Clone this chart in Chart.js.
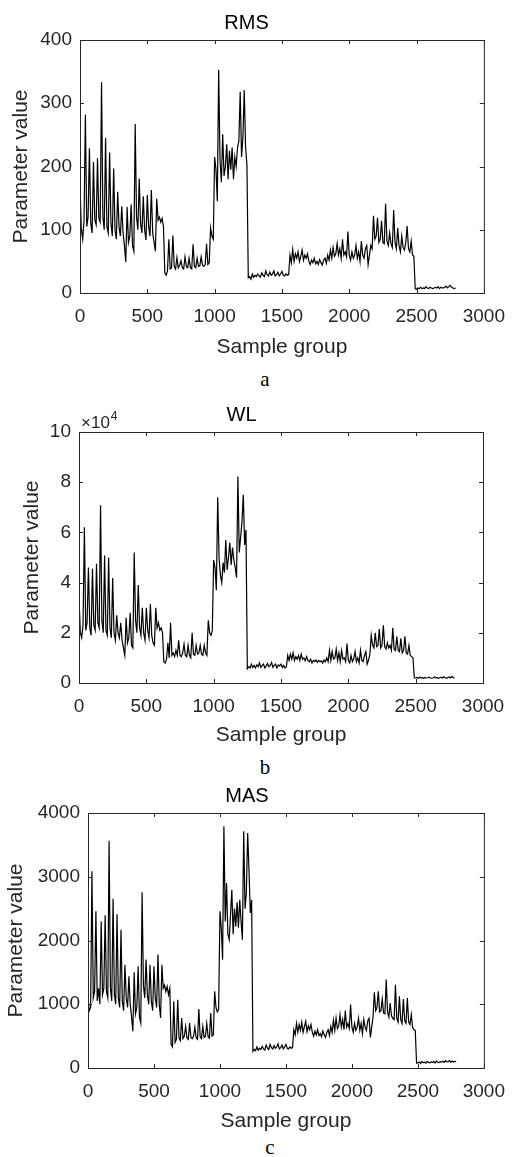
<!DOCTYPE html>
<html>
<head>
<meta charset="utf-8">
<script src="https://cdn.jsdelivr.net/npm/chart.js@4.4.1/dist/chart.umd.min.js"></script>
<style>
  html, body { margin: 0; padding: 0; background: #fff; }
  body { width: 517px; height: 1157px; position: relative; overflow: hidden; }
  .panel { position: absolute; left: 0; width: 517px; height: 365px; }
  .tag { position: absolute; font-family: "Liberation Serif", "Times New Roman", serif;
         font-size: 21px; line-height: 1; color: #000; transform: translateX(-50%); }
</style>
</head>
<body>
<div class="panel" style="top:0px"><canvas id="rms"></canvas></div>
<div class="tag" style="left:265px; top:369px">a</div>
<div class="panel" style="top:390px"><canvas id="wl"></canvas></div>
<div class="tag" style="left:265px; top:757px">b</div>
<div class="panel" style="top:770px"><canvas id="mas"></canvas></div>
<div class="tag" style="left:270px; top:1137px">c</div>

<script>
// sample index of every stored point (one point per 10 samples)
const STEP = 10;
const xTicks = [0, 500, 1000, 1500, 2000, 2500, 3000];
const rmsTicks = [0, 100, 200, 300, 400];
const wlTicks = [0, 20000, 40000, 60000, 80000, 100000];   // shown as x10^4
const masTicks = [0, 1000, 2000, 3000, 4000];

// RMS, one row = 100 samples
const rmsValues = [
  170,100,85,115,282,105,120,229,110,95,
  207,115,108,213,118,112,333,120,100,245,
  105,95,222,110,90,197,100,85,160,105,
  90,137,95,75,49,136,80,90,140,75,
  66,267,120,100,181,110,95,153,100,84,
  155,105,90,163,95,80,66,149,115,120,
  112,118,105,32,28,35,85,38,40,91,
  42,38,56,40,44,51,40,38,57,42,
  40,55,40,38,77,42,40,55,42,43,
  57,44,42,45,78,45,48,103,90,85,
  215,195,145,353,210,175,251,185,200,235,
  180,225,195,230,180,215,200,230,240,318,
  215,245,321,230,203,24,26,22,30,25,
  28,26,30,27,25,32,28,26,35,29,
  27,33,28,30,35,27,29,33,27,30,
  34,28,27,30,28,29,60,48,69,50,
  62,55,65,50,58,68,52,60,55,62,
  50,45,52,48,55,46,50,45,53,48,
  44,52,55,47,60,52,68,55,72,58,
  62,78,60,70,55,85,60,65,57,97,
  60,52,65,55,60,75,55,65,50,82,
  60,55,70,75,45,60,75,70,122,85,
  90,119,80,85,114,80,78,141,82,75,
  95,78,72,131,80,70,103,75,65,90,
  72,68,80,106,70,65,82,60,58,7,
  6,8,7,9,7,8,7,10,8,7,
  9,8,7,8,9,8,10,7,9,8,
  8,9,11,8,10,12,9,8,7,8
];

// WL
const wlValues = [
  34000,20000,18000,23000,62000,21000,24000,46000,22000,19000,
  45500,23000,21000,47500,24000,22000,70800,25000,20000,50800,
  21000,19000,50000,22000,18000,41800,20000,17000,27000,20000,
  18000,24000,17000,14000,11000,26000,16000,18000,28000,15000,
  14000,52000,25000,20000,39000,22000,19000,30000,20000,17000,
  30000,21000,18000,31500,19000,16000,15000,30000,22000,24000,
  21000,22000,20000,8400,8000,9500,16000,10000,24000,11000,
  12000,10500,13000,11000,17000,11000,10500,12000,15500,11000,
  10500,15000,11000,10000,20000,11500,11000,15000,11500,12000,
  15000,11500,11000,15000,12000,11000,25000,20000,19000,21000,
  49000,46000,37000,74000,50000,43000,40000,48000,44000,57000,
  45000,50000,56000,47000,54000,49000,46000,42000,82300,52000,
  58000,64000,75000,55000,61000,5700,6500,6000,7500,6200,
  7000,6000,7200,6500,8000,6200,7000,7500,6000,6800,
  7800,6500,7000,8200,6200,7000,7500,6000,7200,6800,
  7500,6200,7000,6000,6500,11000,9000,11500,9500,12000,
  9000,10500,9500,11000,9000,11500,9500,10000,8800,10500,
  9000,8500,9500,8000,9000,8500,9200,8200,9000,8500,
  8800,8000,9200,8500,10000,8500,13000,9000,12500,9500,
  10000,13500,9000,12000,8500,13000,9500,10000,8500,15700,
  9000,8000,11000,8500,9500,12500,8500,10000,8000,13000,
  9000,8500,11000,12500,7500,9000,11500,19000,15000,14000,
  20000,14500,15000,21500,14000,15000,23000,14500,13500,16000,
  14000,15000,13000,22000,13500,13000,18500,13000,12500,17800,
  12000,13000,18600,12000,11500,15000,11000,10500,10000,2100,
  2000,2200,1900,2300,2000,2100,1900,2200,2000,2100,
  2300,2000,1900,2100,2400,2000,2200,1900,2100,2300,
  2000,2500,2100,1900,2200,2400,2000,2600,2100,2000
];

// MAS
const masValues = [
  1080,900,950,3085,1100,1200,2460,1050,1250,1000,
  2300,1150,1250,2395,1200,1100,3566,1250,1050,2656,
  1150,1000,2410,1100,950,2170,1050,900,1620,1100,
  950,1440,1000,800,575,1500,850,950,1595,800,
  706,2756,1300,1100,1700,1150,1000,1620,1050,900,
  1595,1100,950,1780,1000,784,1620,1250,1300,1200,
  1280,1150,1250,366,330,1046,400,450,1072,470,
  430,784,460,500,654,470,450,706,480,460,
  500,640,470,450,925,490,460,650,480,500,
  700,490,470,863,500,520,1203,950,880,920,
  2458,2200,1700,3791,2300,2902,2100,2013,2400,2797,
  2100,2500,2222,2600,2200,2640,2300,2013,3713,2500,
  2745,3686,3111,2431,2640,261,290,270,330,280,
  310,290,340,300,280,360,310,290,370,320,
  300,350,310,330,380,300,320,360,300,330,
  370,310,300,330,310,320,600,520,700,560,
  680,590,720,560,650,732,570,660,600,680,
  560,500,580,520,600,510,540,490,580,520,
  480,560,600,510,650,560,750,590,784,620,
  660,837,640,760,600,900,640,700,620,994,
  640,560,700,590,640,780,590,700,540,760,
  640,590,740,780,480,640,800,1187,900,950,
  1203,880,900,1082,860,850,1386,880,800,1020,
  820,780,760,1307,780,720,1124,760,700,1082,
  740,700,1098,720,680,837,640,600,590,78,
  80,95,70,100,85,90,75,105,88,80,
  95,85,100,78,110,90,85,100,92,105,
  88,115,95,100,120,90,110,95,105,100
];

const sampleGroup = rmsValues.map((_, i) => i * STEP);

const AXIS_COLOR = '#262626';
const SANS = '"Liberation Sans", Arial, sans-serif';

// MATLAB-like box with inward ticks on all four sides
const boxPlugin = {
  id: 'box',
  afterDraw(chart, args, opts) {
    const { ctx, chartArea: a, scales: { x, y } } = chart;
    const len = 4;
    ctx.save();
    ctx.strokeStyle = AXIS_COLOR;
    ctx.lineWidth = 1;
    ctx.strokeRect(a.left + 0.5, a.top + 0.5, a.right - a.left, a.bottom - a.top);
    ctx.beginPath();
    x.ticks.forEach(t => {
      const px = Math.round(x.getPixelForValue(t.value)) + 0.5;
      ctx.moveTo(px, a.bottom); ctx.lineTo(px, a.bottom - len);
      ctx.moveTo(px, a.top); ctx.lineTo(px, a.top + len);
    });
    y.ticks.forEach(t => {
      const py = Math.round(y.getPixelForValue(t.value)) + 0.5;
      ctx.moveTo(a.left, py); ctx.lineTo(a.left + len, py);
      ctx.moveTo(a.right, py); ctx.lineTo(a.right - len, py);
    });
    ctx.stroke();
    if (opts.exponent) {
      ctx.fillStyle = AXIS_COLOR;
      ctx.textBaseline = 'alphabetic';
      ctx.font = '17px ' + SANS;
      ctx.fillText('\u00d710', a.left + 2, a.top - 4);
      const w = ctx.measureText('\u00d710').width;
      ctx.font = '12px ' + SANS;
      ctx.fillText(opts.exponent, a.left + 3 + w, a.top - 12);
    }
    ctx.restore();
  }
};

function makePanel(p) {
  new Chart(document.getElementById(p.id), {
    type: 'line',
    data: {
      datasets: [{
        data: p.values.map((v, i) => ({ x: sampleGroup[i], y: v })),
        borderColor: '#000',
        borderWidth: 1.2,
        pointRadius: 0,
        tension: 0,
        fill: false
      }]
    },
    options: {
      responsive: true,
      maintainAspectRatio: false,
      animation: false,
      events: [],
      layout: { padding: { left: 0, right: p.padRight, top: 0, bottom: 0 } },
      plugins: {
        legend: { display: false },
        tooltip: { enabled: false },
        title: {
          display: true,
          text: p.title,
          color: '#000',
          font: { family: SANS, size: 20, weight: 'normal' },
          padding: { top: p.titleTop, bottom: p.top - p.titleTop - 24 }
        },
        box: { exponent: p.exponent }
      },
      scales: {
        x: {
          type: 'linear',
          min: xTicks[0],
          max: xTicks[xTicks.length - 1],
          afterBuildTicks: s => { s.ticks = xTicks.map(v => ({ value: v })); },
          afterFit: s => { s.height = 365 - p.bottom; },
          grid: { display: false, drawTicks: false },
          border: { display: false },
          ticks: {
            padding: 12,
            color: AXIS_COLOR,
            font: { family: SANS, size: 19 },
            maxRotation: 0,
            callback: v => String(v)
          },
          title: {
            display: true,
            text: 'Sample group',
            color: AXIS_COLOR,
            font: { family: SANS, size: 21 },
            padding: { top: 0, bottom: p.xTitlePad }
          }
        },
        y: {
          type: 'linear',
          min: p.ticks[0],
          max: p.ticks[p.ticks.length - 1],
          afterBuildTicks: s => { s.ticks = p.ticks.map(v => ({ value: v })); },
          afterFit: s => { s.width = p.left; },
          grid: { display: false, drawTicks: false },
          border: { display: false },
          ticks: {
            padding: 8,
            color: AXIS_COLOR,
            font: { family: SANS, size: 19 },
            callback: v => p.exponent ? String(v / 10000) : String(v)
          },
          title: {
            display: true,
            text: 'Parameter value',
            color: AXIS_COLOR,
            font: { family: SANS, size: 21 },
            padding: { top: p.yTitlePad, bottom: 0 }
          }
        }
      }
    },
    plugins: [boxPlugin]
  });
}

makePanel({ id: 'rms', title: 'RMS', values: rmsValues, ticks: rmsTicks,
  left: 80, padRight: 24, top: 40, bottom: 293, titleTop: 11, xTitlePad: 5, yTitlePad: 9 });
makePanel({ id: 'wl', title: 'WL', values: wlValues, ticks: wlTicks, exponent: '4',
  left: 79, padRight: 34, top: 42, bottom: 293, titleTop: 13, xTitlePad: 7, yTitlePad: 20 });
makePanel({ id: 'mas', title: 'MAS', values: masValues, ticks: masTicks,
  left: 88, padRight: 23, top: 43, bottom: 298, titleTop: 14, xTitlePad: 1, yTitlePad: 4 });
</script>
</body>
</html>
